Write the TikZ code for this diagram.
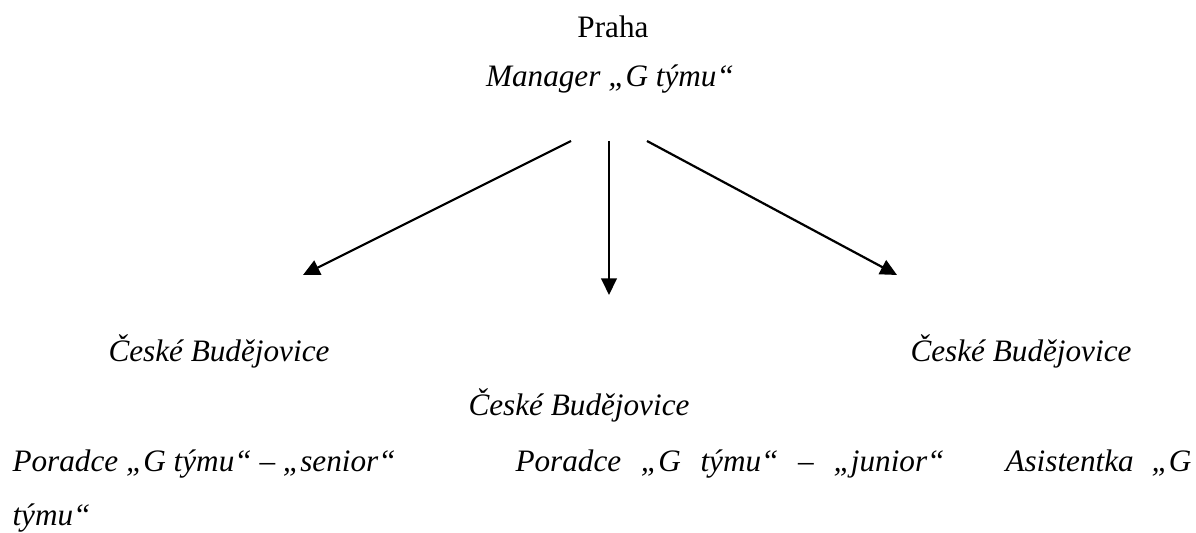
\documentclass[tikz,border=0pt]{standalone}
\usepackage{fontspec}
\setmainfont{Liberation Serif}
\usetikzlibrary{arrows.meta}
\tikzset{
  lbl/.style={anchor=base west, inner sep=0pt, font=\fontsize{12pt}{14pt}\selectfont\itshape},
  head/.style={anchor=base, inner sep=0pt, font=\fontsize{12pt}{14pt}\selectfont},
  link/.style={line width=0.85pt, -{Triangle[length=6.4pt, width=6pt]}}
}
\begin{document}
\begin{tikzpicture}[x=0.3846pt, y=-0.3846pt]
  \useasboundingbox (0,0) rectangle (1196,533);
  % head of the team
  \node[head] (praha) at (613,38) {Praha};
  \node[head, font=\fontsize{12pt}{14pt}\selectfont\itshape] (mgr) at (610,87) {Manager „G týmu“};
  % arrow ends
  \coordinate (sL) at (571,141);
  \coordinate (sM) at (609,141);
  \coordinate (sR) at (647,141);
  \coordinate (eL) at (303,275);
  \coordinate (eM) at (609,295);
  \coordinate (eR) at (897,275);
  \draw[link] (sL) -- (eL);
  \draw[link] (sM) -- (eM);
  \draw[link] (sR) -- (eR);
  % branch offices
  \node[lbl] (cbL) at (108,362) {České Budějovice};
  \node[lbl] (cbR) at (910,362) {České Budějovice};
  \node[lbl] (cbM) at (468,416) {České Budějovice};
  % positions
  \node[lbl] (senior) at (12,472) {Poradce „G týmu“ – „senior“};
  \node[lbl] (junior) at (515,472) {\makebox[165pt][s]{Poradce „G týmu“ – „junior“}};
  \node[lbl] (asist) at (1005,472) {\makebox[71.5pt][s]{Asistentka „G}};
  \node[lbl] (asist2) at (12,526) {týmu“};
\end{tikzpicture}
\end{document}
